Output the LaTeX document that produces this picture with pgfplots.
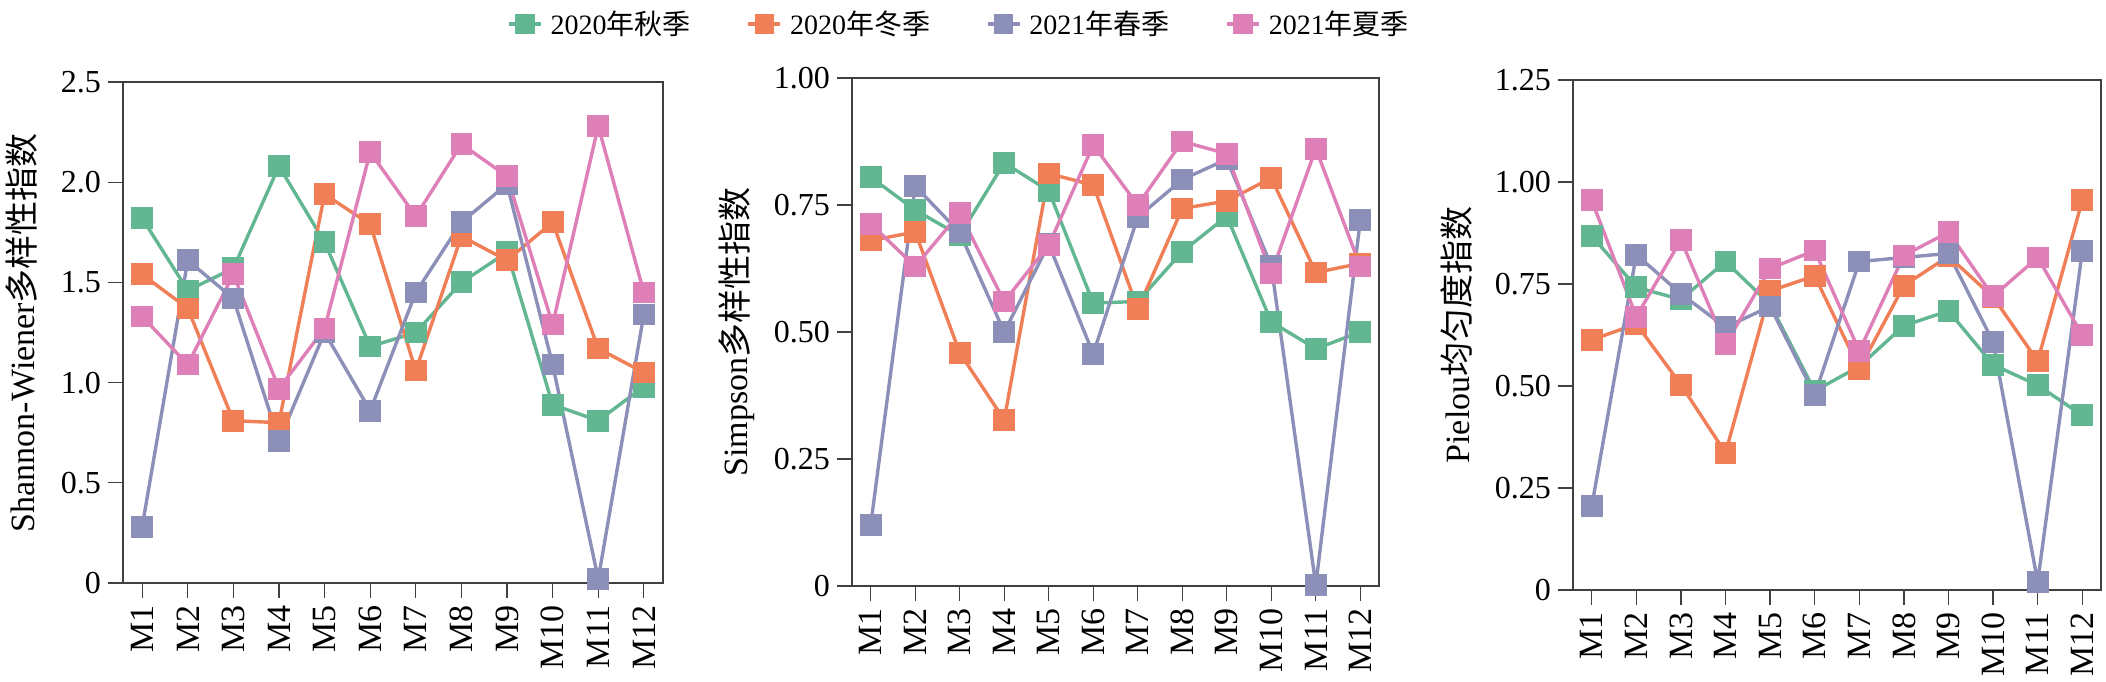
\documentclass[border=0pt]{standalone}
\usepackage{fontspec}
\setmainfont{Liberation Serif}
\newfontfamily\cjk{Noto Sans CJK SC}
\usepackage{pgfplots}
\pgfplotsset{compat=1.18}
\usepackage{pgfplotstable}

\definecolor{cA}{HTML}{62B792}
\definecolor{cB}{HTML}{F07F58}
\definecolor{cC}{HTML}{8C90B8}
\definecolor{cD}{HTML}{DE7FB8}

% columns: site, Shannon-Wiener, Simpson, Pielou
\pgfplotstableread{
x sh si pi
1 1.82 0.805 0.868
2 1.46 0.740 0.742
3 1.57 0.690 0.712
4 2.08 0.833 0.805
5 1.70 0.778 0.700
6 1.18 0.557 0.488
7 1.25 0.560 0.548
8 1.50 0.658 0.648
9 1.65 0.728 0.684
10 0.89 0.520 0.552
11 0.81 0.467 0.502
12 0.98 0.500 0.428
}\autumn
\pgfplotstableread{
x sh si pi
1 1.54 0.680 0.613
2 1.37 0.697 0.652
3 0.81 0.459 0.503
4 0.80 0.327 0.336
5 1.94 0.812 0.733
6 1.79 0.789 0.770
7 1.06 0.545 0.542
8 1.73 0.743 0.746
9 1.61 0.758 0.818
10 1.80 0.803 0.718
11 1.17 0.617 0.561
12 1.05 0.635 0.955
}\winter
\pgfplotstableread{
x sh si pi
1 0.28 0.120 0.205
2 1.61 0.787 0.822
3 1.42 0.696 0.726
4 0.71 0.500 0.644
5 1.25 0.673 0.695
6 0.86 0.457 0.478
7 1.45 0.726 0.805
8 1.80 0.800 0.815
9 1.99 0.840 0.825
10 1.09 0.630 0.608
11 0.02 0.002 0.020
12 1.34 0.720 0.830
}\spring
\pgfplotstableread{
x sh si pi
1 1.33 0.713 0.955
2 1.09 0.629 0.670
3 1.54 0.734 0.858
4 0.97 0.560 0.602
5 1.27 0.671 0.788
6 2.15 0.868 0.832
7 1.83 0.750 0.586
8 2.19 0.875 0.820
9 2.03 0.851 0.877
10 1.29 0.615 0.720
11 2.28 0.861 0.815
12 1.45 0.629 0.625
}\summer

\pgfplotsset{
  panel/.style={
    scale only axis,
    xmin=0.58, xmax=12.42, ymin=0,
    xtick={1,2,3,4,5,6,7,8,9,10,11,12},
    xticklabels={M1,M2,M3,M4,M5,M6,M7,M8,M9,M10,M11,M12},
    tick align=outside, tick pos=left,
    major tick length=7.5pt,
    axis line style={draw=black!75, line width=0.65pt},
    every tick/.style={black!75, line width=0.65pt},
    xticklabel style={rotate=90, anchor=east, font=\fontsize{17}{17}\selectfont},
    yticklabel style={font=\fontsize{16}{16}\selectfont},
    ylabel style={font=\fontsize{17}{17}\selectfont, anchor=center},
    every axis plot/.append style={line width=1.7pt, mark=square*, mark size=4.6pt, mark options={solid}},
  }
}

\begin{document}
\begin{tikzpicture}
\path[use as bounding box] (0,0) rectangle (1053pt,340.5pt);

\begin{axis}[panel, at={(61.5pt,49pt)}, anchor=south west,
  width=270pt, height=250.5pt, ymax=2.5,
  ytick={0,0.5,1,1.5,2,2.5}, yticklabels={0,0.5,1.0,1.5,2.0,2.5},
  ylabel={Shannon-Wiener{\cjk 多样性指数}},
  ylabel style={at={(axis description cs:-0.187,0.5)}}]
\addplot[cA] table[x=x,y=sh]{\autumn};
\addplot[cB] table[x=x,y=sh]{\winter};
\addplot[cC] table[x=x,y=sh]{\spring};
\addplot[cD] table[x=x,y=sh]{\summer};
\end{axis}

\begin{axis}[panel, at={(426pt,47.5pt)}, anchor=south west,
  width=263.5pt, height=254pt, ymax=1,
  ytick={0,0.25,0.5,0.75,1}, yticklabels={0,0.25,0.50,0.75,1.00},
  ylabel={Simpson{\cjk 多样性指数}},
  ylabel style={at={(axis description cs:-0.218,0.5)}},
  legend columns=4,
  legend style={draw=none, fill=none, at={(axis description cs:0.205,1.106)}, anchor=center,
    font=\fontsize{14}{14}\selectfont,
    /tikz/every even column/.append style={column sep=26pt},
    /tikz/every odd column/.append style={column sep=2pt}},
  legend image code/.code={\draw[mark repeat=2,mark phase=2,mark size=4pt] plot coordinates {(0pt,0pt) (8pt,0pt) (16pt,0pt)};}]
\addplot[cA] table[x=x,y=si]{\autumn};
\addplot[cB] table[x=x,y=si]{\winter};
\addplot[cC] table[x=x,y=si]{\spring};
\addplot[cD] table[x=x,y=si]{\summer};
\addlegendentry{2020{\cjk 年秋季}}
\addlegendentry{2020{\cjk 年冬季}}
\addlegendentry{2021{\cjk 年春季}}
\addlegendentry{2021{\cjk 年夏季}}
\end{axis}

\begin{axis}[panel, at={(786.5pt,45.5pt)}, anchor=south west,
  width=264pt, height=255pt, ymax=1.25,
  ytick={0,0.25,0.5,0.75,1,1.25}, yticklabels={0,0.25,0.50,0.75,1.00,1.25},
  ylabel={Pielou{\cjk 均匀度指数}},
  ylabel style={at={(axis description cs:-0.22,0.5)}}]
\addplot[cA] table[x=x,y=pi]{\autumn};
\addplot[cB] table[x=x,y=pi]{\winter};
\addplot[cC] table[x=x,y=pi]{\spring};
\addplot[cD] table[x=x,y=pi]{\summer};
\end{axis}
\end{tikzpicture}
\end{document}
